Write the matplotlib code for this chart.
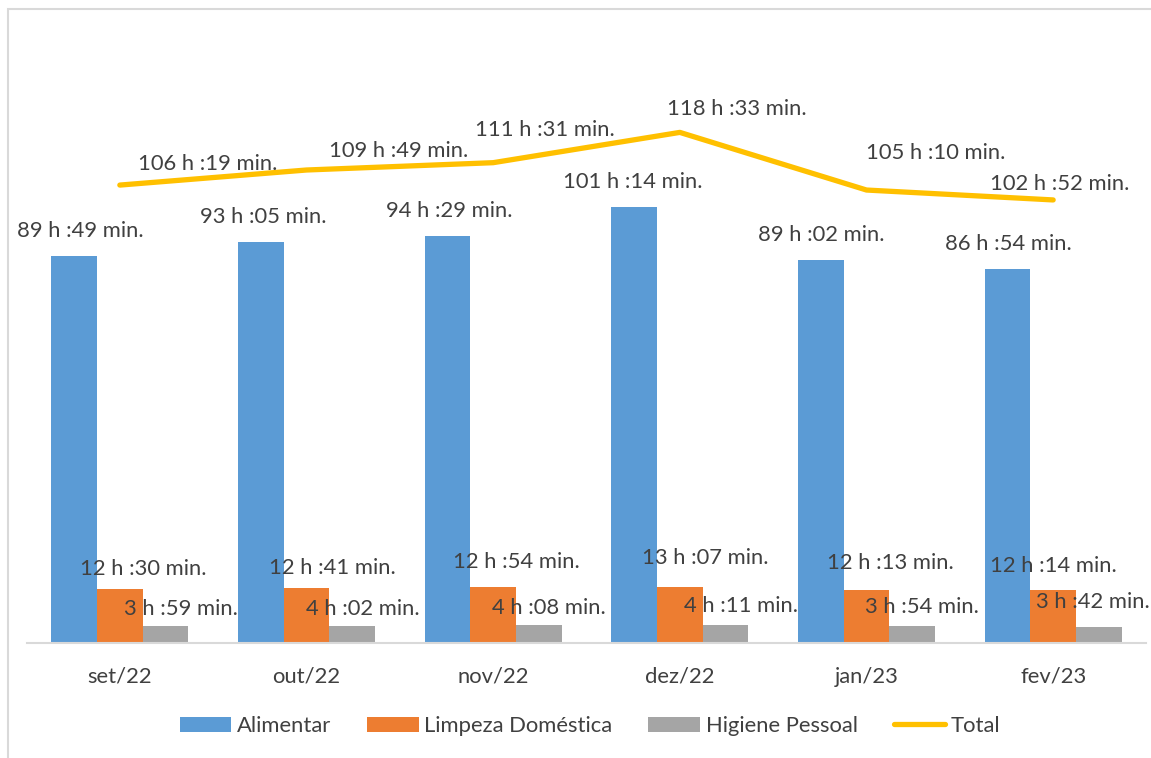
import matplotlib
matplotlib.use("Agg")
import matplotlib.pyplot as plt
from matplotlib.patches import Patch, Rectangle
from matplotlib.lines import Line2D
import numpy as np

plt.rcParams['font.family'] = ['Lato', 'DejaVu Sans']

categories = ["set/22", "out/22", "nov/22", "dez/22", "jan/23", "fev/23"]
# values as (hours, minutes)
alimentar_hm = [(89, 49), (93, 5), (94, 29), (101, 14), (89, 2), (86, 54)]
limpeza_hm = [(12, 30), (12, 41), (12, 54), (13, 7), (12, 13), (12, 14)]
higiene_hm = [(3, 59), (4, 2), (4, 8), (4, 11), (3, 54), (3, 42)]
total_hm = [(106, 19), (109, 49), (111, 31), (118, 33), (105, 10), (102, 52)]

def to_hours(hm):
    return np.array([h + m / 60 for h, m in hm])

def fmt(hm):
    h, m = hm
    return f"{h} h :{m:02d} min."

alimentar = to_hours(alimentar_hm)
limpeza = to_hours(limpeza_hm)
higiene = to_hours(higiene_hm)
total = to_hours(total_hm)

BLUE = "#5B9BD5"
ORANGE = "#ED7D31"
GRAY = "#A5A5A5"
YELLOW = "#FFC000"
TXT = "#404040"

W, H = 1151, 758
fig = plt.figure(figsize=(W / 100, H / 100), dpi=100)
# chart border (right and bottom edges fall outside the image)
fig.patches.append(Rectangle((8 / W, -10 / H), (W + 20) / W, (H - 8 + 10 - 0.5) / H, transform=fig.transFigure,
                             fill=False, edgecolor="#D9D9D9", linewidth=1.5))

ax = fig.add_axes([26.5 / W, 1 - 643 / H, 1120 / W, 603 / H])
x = np.arange(len(categories))
bw = 0.245
ax.bar(x - bw, alimentar, bw, color=BLUE, zorder=2)
ax.bar(x, limpeza, bw, color=ORANGE, zorder=2)
ax.bar(x + bw, higiene, bw, color=GRAY, zorder=2)
ax.plot(x, total, color=YELLOW, linewidth=3.8, solid_capstyle='round', solid_joinstyle='round', zorder=3)

ax.set_xlim(-0.5, len(categories) - 0.5)
ax.set_ylim(0, 140)
ax.set_yticks([])
for s in ["left", "right", "top"]:
    ax.spines[s].set_visible(False)
ax.spines["bottom"].set_color("#D9D9D9")
ax.spines["bottom"].set_linewidth(1.5)
ax.set_xticks(x)
fs = 15.8
ax.set_xticklabels(categories, fontsize=fs, color=TXT)
ax.tick_params(axis='x', length=0, pad=17)

# label offsets in pixels (dx, dy)
al_dx = [6, 2, 2, -1, 0, 1]
li_dx = [23, 26, 23, 25, 24, 0]
li_dy = [20, 20, 25, 29, 27, 24]
hi_dx = [15, 11, 10, 15, 10, -6]
hi_dy = [17, 17, 17, 19, 19, 25]
to_dx = [88, 92, 52, 57, 69, 7]
to_dy = [21, 19, 33, 23, 37, 16]

for i in range(len(categories)):
    ax.annotate(fmt(alimentar_hm[i]), (x[i] - bw, alimentar[i]), xytext=(al_dx[i], 25),
                textcoords='offset pixels', ha='center', va='center', fontsize=fs, color=TXT, zorder=5)
    ax.annotate(fmt(limpeza_hm[i]), (x[i], limpeza[i]), xytext=(li_dx[i], li_dy[i]),
                textcoords='offset pixels', ha='center', va='center', fontsize=fs, color=TXT, zorder=5)
    ax.annotate(fmt(higiene_hm[i]), (x[i] + bw, higiene[i]), xytext=(hi_dx[i], hi_dy[i]),
                textcoords='offset pixels', ha='center', va='center', fontsize=fs, color=TXT, zorder=5,
                annotation_clip=False)
    ax.annotate(fmt(total_hm[i]), (x[i], total[i]), xytext=(to_dx[i], to_dy[i]),
                textcoords='offset pixels', ha='center', va='center', fontsize=fs, color=TXT, zorder=5)

handles = [Patch(facecolor=BLUE), Patch(facecolor=ORANGE), Patch(facecolor=GRAY),
           Line2D([0], [0], color=YELLOW, linewidth=3.8, solid_capstyle='round')]
labels = ["Alimentar", "Limpeza Doméstica", "Higiene Pessoal", "Total"]
leg = fig.legend(handles, labels, loc='center', bbox_to_anchor=(590 / W, 1 - 726 / H), ncol=4,
                 frameon=False, fontsize=fs, handlelength=2.35, handleheight=0.65,
                 handletextpad=0.25, columnspacing=1.65, labelcolor=TXT)

fig.savefig("out.png", dpi=100)
